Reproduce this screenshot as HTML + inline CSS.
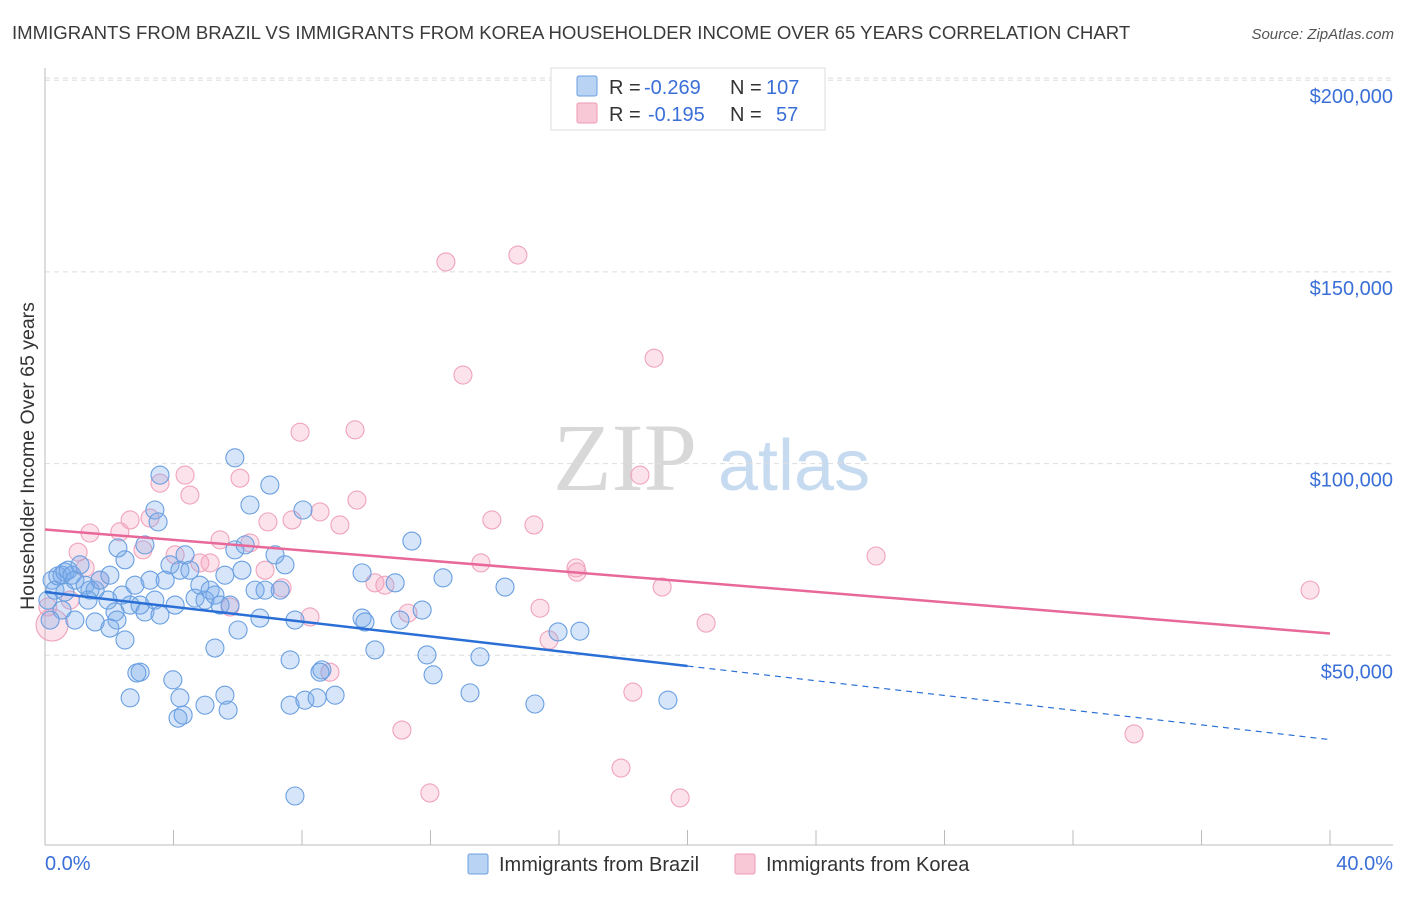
<!DOCTYPE html>
<html><head><meta charset="utf-8"><style>
body{margin:0;background:#fff;font-family:"Liberation Sans",sans-serif}
</style></head><body>
<svg id="chart" width="1406" height="892" xmlns="http://www.w3.org/2000/svg" font-family="Liberation Sans, sans-serif">
<text x="12" y="39" font-size="18.6" fill="#3a3a3a">IMMIGRANTS FROM BRAZIL VS IMMIGRANTS FROM KOREA HOUSEHOLDER INCOME OVER 65 YEARS CORRELATION CHART</text>
<text x="1394" y="39" font-size="15" fill="#555" font-style="italic" text-anchor="end">Source: ZipAtlas.com</text>
<text x="553" y="490" font-size="96" fill="#d8d8d8" font-family="Liberation Serif, serif">ZIP</text>
<text x="718" y="490" font-size="72" fill="#c6daf0">atlas</text>
<g id="grid"></g>
<g id="axes"></g>
<g id="marks"></g>
<g id="trends"></g>
<text transform="translate(34,456) rotate(-90)" font-size="19.5" fill="#333" text-anchor="middle">Householder Income Over 65 years</text>
<text x="45" y="870" font-size="20" fill="#3a6fd8">0.0%</text>
<text x="1393" y="870" font-size="20" fill="#3a6fd8" text-anchor="end">40.0%</text>
<g>
<rect x="551" y="68" width="274" height="62" fill="#fff" stroke="#ddd"/>
<rect x="577" y="76" width="20" height="20" rx="2" fill="#b8d3f4" stroke="#6a9fe0"/>
<rect x="577" y="103" width="20" height="20" rx="2" fill="#f8c8d6" stroke="#ee9ab5"/>
<text x="609" y="94" font-size="20" fill="#333">R =</text>
<text x="644" y="94" font-size="20" fill="#3a6fd8">-0.269</text>
<text x="730" y="94" font-size="20" fill="#333">N =</text>
<text x="766" y="94" font-size="20" fill="#3a6fd8">107</text>
<text x="609" y="121" font-size="20" fill="#333">R =</text>
<text x="648" y="121" font-size="20" fill="#3a6fd8">-0.195</text>
<text x="730" y="121" font-size="20" fill="#333">N =</text>
<text x="776" y="121" font-size="20" fill="#3a6fd8">57</text>
</g>
<g>
<rect x="468" y="854" width="20" height="20" rx="2" fill="#b8d3f4" stroke="#6a9fe0"/>
<text x="499" y="871" font-size="20" fill="#333">Immigrants from Brazil</text>
<rect x="735" y="854" width="20" height="20" rx="2" fill="#f8c8d6" stroke="#ee9ab5"/>
<text x="766" y="871" font-size="20" fill="#333">Immigrants from Korea</text>
</g>
</svg>
<script>
const yTicks=[50000,100000,150000,200000];
const yTickLabels=["$50,000","$100,000","$150,000","$200,000"];
const xTicks=[0,4,8,12,16,20,24,28,32,36,40];
const brazilX=[0.22,0.31,0.40,0.53,0.62,0.72,0.84,0.93,1.09,1.25,1.40,1.56,1.71,2.02,1.96,2.18,2.40,2.49,2.27,2.65,2.80,2.96,3.11,3.27,3.42,3.58,3.74,3.89,4.05,4.20,4.36,4.51,4.67,4.82,4.98,5.14,5.29,5.45,5.60,5.76,5.91,6.01,6.13,6.23,6.38,6.54,6.69,6.85,7.00,7.16,7.32,7.47,7.63,7.78,8.03,3.58,3.42,3.52,3.11,5.91,2.96,3.98,4.20,2.65,4.98,5.60,5.70,4.14,4.30,7.78,7.63,8.09,8.47,9.03,8.62,9.87,9.87,9.96,10.27,10.90,11.05,11.42,11.74,11.89,12.08,12.39,13.23,13.54,14.32,15.25,15.97,16.65,19.39,0.53,0.16,0.09,2.49,2.86,5.29,8.56,2.24,2.02,1.34,0.62,0.93,1.56];
const brazilY=[69.6,67.0,70.7,70.9,71.7,72.2,70.9,69.6,73.6,68.3,67.0,67.0,69.6,70.9,64.4,61.3,65.7,74.9,78.0,63.1,68.3,63.1,61.3,69.6,64.4,60.5,69.6,73.6,63.1,72.2,76.2,72.2,64.9,68.3,64.4,67.0,65.7,63.1,70.9,63.1,77.5,56.6,72.2,78.8,89.2,67.0,59.7,67.0,94.4,76.2,67.0,73.6,48.8,59.2,87.9,97.0,87.9,84.8,78.8,101.5,45.6,43.6,38.9,38.9,37.0,39.6,35.7,33.6,34.4,13.3,37.0,38.3,38.9,39.6,46.2,71.5,59.7,58.7,51.4,68.9,59.2,79.8,61.8,50.1,44.9,70.2,40.2,49.6,67.8,37.3,56.1,56.3,38.3,61.8,59.2,64.4,54.0,45.4,51.9,45.6,59.2,57.1,64.4,66.5,59.2,58.7];
const koreaX=[0.22,0.09,0.78,1.03,1.40,1.71,1.25,2.33,2.65,3.05,3.27,3.58,4.36,4.51,4.05,4.82,5.14,5.45,5.76,6.07,6.38,6.94,6.85,7.38,7.69,7.94,8.56,8.25,8.87,9.18,9.65,9.71,10.27,10.58,11.11,11.30,11.98,12.48,13.01,13.57,13.91,14.72,15.22,15.41,15.69,16.53,16.56,17.93,18.30,18.52,18.96,19.21,19.77,20.58,25.87,33.90,39.38];
const koreaY=[57.9,62.6,64.4,76.9,81.9,69.6,72.8,82.2,85.3,77.5,85.8,94.9,97.0,91.8,76.2,74.1,74.1,80.1,62.6,96.2,79.3,84.8,72.2,67.6,85.3,108.2,87.4,60.0,45.6,84.0,108.8,90.5,68.9,68.3,30.5,61.0,14.1,152.6,123.1,74.1,85.3,154.4,84.0,62.3,54.0,72.8,71.7,20.6,40.4,97.0,127.5,67.8,12.8,58.4,75.9,29.5,67.0];
const brazilTrendX=[0,20,40];
const brazilTrendY=[66.5,47.2,28.0];
const koreaTrendX=[0,40];
const koreaTrendY=[82.8,55.7];
const NS="http://www.w3.org/2000/svg";
const sx=v=>45+v*(1285/40);
const sy=k=>847-k*3.834;
function mk(tag,attrs,parent){const e=document.createElementNS(NS,tag);for(const k in attrs)e.setAttribute(k,attrs[k]);parent.appendChild(e);return e;}
const grid=document.getElementById('grid'),axes=document.getElementById('axes'),marks=document.getElementById('marks'),trends=document.getElementById('trends');
mk('line',{x1:45,x2:1393,y1:78,y2:78,stroke:'#ddd','stroke-dasharray':'5,4'},grid);
yTicks.forEach((t,i)=>{
 const l=mk('line',{x1:45,x2:1393,y1:sy(t/1000),y2:sy(t/1000),stroke:'#ddd','stroke-dasharray':'5,4'},grid);
 
 
 const tx=mk('text',{x:1393,y:sy(t/1000)+23,'font-size':20,fill:'#3a6fd8','text-anchor':'end'},grid);
 tx.textContent=yTickLabels[i];
 
 
});
const ya=mk('line',{x1:45,x2:45,y1:68,y2:845,stroke:'#bbb'},axes);


const xa=mk('line',{x1:45,x2:1393,y1:845,y2:845,stroke:'#bbb'},axes);


xTicks.forEach(t=>{
 const l=mk('line',{x1:sx(t),x2:sx(t),y1:830,y2:845,stroke:'#bbb'},axes);
 
 
});
koreaX.forEach((x,i)=>{
 const c=mk('circle',{cx:sx(x),cy:sy(koreaY[i]),r:i===0?16:9,fill:'rgba(244,160,188,0.3)',stroke:'#f0a3bb','stroke-width':1.1},marks);
 
 
});
brazilX.forEach((x,i)=>{
 const c=mk('circle',{cx:sx(x),cy:sy(brazilY[i]),r:9,fill:'rgba(120,170,235,0.3)',stroke:'#6a9fe0','stroke-width':1.1},marks);
 
 
});
const b1=mk('line',{x1:sx(brazilTrendX[0]),y1:sy(brazilTrendY[0]),x2:sx(brazilTrendX[1]),y2:sy(brazilTrendY[1]),stroke:'#2a6fd6','stroke-width':2.5},trends);


const b2=mk('line',{x1:sx(brazilTrendX[1]),y1:sy(brazilTrendY[1]),x2:sx(brazilTrendX[2]),y2:sy(brazilTrendY[2]),stroke:'#2a6fd6','stroke-width':1.2,'stroke-dasharray':'6,5'},trends);


const k1=mk('line',{x1:sx(koreaTrendX[0]),y1:sy(koreaTrendY[0]),x2:sx(koreaTrendX[1]),y2:sy(koreaTrendY[1]),stroke:'#e8689a','stroke-width':2.5},trends);


</script>
</body></html>
